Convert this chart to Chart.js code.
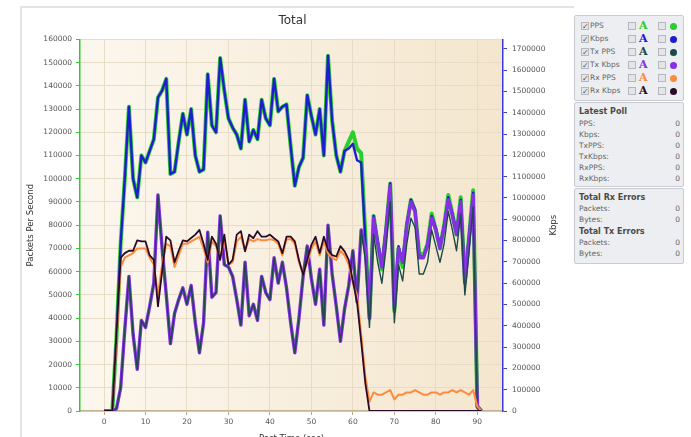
<!DOCTYPE html>
<html>
<head>
<meta charset="utf-8">
<script src="https://cdn.jsdelivr.net/npm/chart.js@4.4.1/dist/chart.umd.min.js"></script>
<style>
  html, body { margin: 0; padding: 0; background: #fff; width: 691px; height: 437px; overflow: hidden; font-family: "DejaVu Sans", Tahoma, sans-serif; }
  #frame { position: absolute; left: 20px; top: 6px; width: 552px; height: 440px; border-left: 2px solid #e1e3e7; border-top: 2px solid #e1e3e7; }
  #wrap { position: absolute; left: 20px; top: 6px; width: 545px; height: 438px; }
  .box { position: absolute; left: 574px; width: 108px; background: #eceef1; border: 1px solid #c8cbd1; border-radius: 2px; color: #666; font-size: 7.5px; }
  .row { position: absolute; left: 0; right: 0; height: 12px; line-height: 12px; }
  .cb { position: absolute; width: 8px; height: 8px; top: 2px; background: #e4e5e8; border: 1px solid #b5b7bc; box-sizing: border-box; font-size: 8px; line-height: 7px; color: #555; text-align: center; }
  .lbl { position: absolute; left: 15px; }
  .aa { position: absolute; left: 64px; font-family: "DejaVu Serif", "Liberation Serif", serif; font-weight: bold; font-size: 11px; line-height: 12px; }
  .dot { position: absolute; left: 95px; top: 3px; width: 7px; height: 7px; border-radius: 50%; }
  .hd { position: absolute; left: 4px; font-weight: bold; color: #4a4a4a; font-size: 8px; }
  .k { position: absolute; left: 4px; }
  .v { position: absolute; right: 3px; }
</style>
</head>
<body>
<div id="frame"></div>
<div id="wrap"><canvas id="chart"></canvas></div>

<div class="box" style="top:15px;height:84px;" id="legendBox"></div>
<div class="box" style="top:102px;height:83px;" id="pollBox"></div>
<div class="box" style="top:188px;height:74px;" id="errBox"></div>

<script>
// --- data ---
const times = [0,1,2,3,4,5,6,7,8,9,10,11,12,13,14,15,16,17,18,19,20,21,22,23,24,25,26,27,28,29,30,31,32,33,34,35,36,37,38,39,40,41,42,43,44,45,46,47,48,49,50,51,52,53,54,55,56,57,58,59,60,61,62,63,64,65,66,67,68,69,70,71,72,73,74,75,76,77,78,79,80,81,82,83,84,85,86,87,88,89,90,91];

const pps = [0,0,0,32000,72000,100000,131000,100000,92000,110000,107000,112000,117000,135000,138000,143000,102000,103000,116000,128000,119000,130000,110000,103000,104000,145000,123000,120000,152000,138000,126000,122000,119000,113000,134000,116000,121000,117000,134000,126000,123000,143000,129000,131000,132000,114000,97000,105000,109000,136000,127000,119000,130000,110000,153000,125000,110000,103000,112000,116000,120000,113000,111000,76000,40000,84000,72000,61000,78000,98000,43000,70000,62000,80000,91000,86000,68000,67000,72000,85000,78000,70000,80000,93000,85000,76000,92000,56000,75000,95000,2000,0];

const kbps = [0,0,0,349000,785000,1090000,1428000,1090000,1003000,1199000,1166000,1221000,1275000,1472000,1504000,1559000,1112000,1123000,1264000,1395000,1297000,1417000,1199000,1123000,1134000,1581000,1341000,1308000,1657000,1504000,1373000,1330000,1297000,1232000,1461000,1264000,1319000,1275000,1461000,1373000,1341000,1559000,1406000,1428000,1439000,1243000,1057000,1145000,1188000,1482000,1384000,1297000,1417000,1199000,1668000,1363000,1199000,1123000,1221000,1232000,1254000,1177000,1166000,807000,436000,916000,796000,687000,861000,1068000,480000,774000,698000,883000,992000,948000,730000,719000,785000,916000,861000,774000,872000,1003000,927000,839000,992000,610000,818000,1025000,22000,0];

const txPps = [0,0,0,1000,10000,35000,58000,33000,18000,39000,36000,45000,55000,93000,70000,50000,29000,42000,48000,53000,46000,54000,38000,25000,38000,77000,49000,51000,84000,63000,62000,58000,48000,37000,64000,41000,46000,39000,58000,51000,48000,66000,55000,64000,53000,38000,25000,40000,58000,71000,57000,46000,61000,37000,80000,59000,45000,30000,44000,54000,69000,47000,78000,65000,36000,76000,64000,55000,70000,90000,38000,63000,56000,72000,83000,79000,59000,59000,64000,78000,71000,64000,72000,86000,78000,69000,85000,50000,68000,88000,1000,0];

const txKbps = [0,0,0,11000,109000,382000,632000,360000,196000,425000,392000,491000,600000,1014000,763000,545000,316000,458000,523000,578000,501000,589000,414000,273000,414000,839000,534000,556000,916000,687000,676000,632000,523000,403000,698000,447000,501000,425000,632000,556000,523000,719000,600000,698000,578000,414000,273000,436000,632000,774000,621000,501000,665000,403000,872000,643000,491000,327000,480000,589000,752000,512000,850000,763000,436000,905000,785000,676000,850000,1057000,480000,763000,698000,872000,981000,937000,719000,719000,774000,905000,850000,763000,861000,992000,916000,828000,981000,600000,807000,1014000,22000,0];

const rxPps = [0,0,0,30000,62000,66000,67000,68000,70000,70000,70000,66000,63000,50000,63000,72000,71000,62000,67000,72000,72000,73000,74000,75000,70000,64000,73000,71000,66000,74000,63000,64000,73000,75000,69000,74000,73000,74000,73500,73500,74000,73500,72000,67000,74000,74000,72000,64000,59000,64000,70000,73000,67000,73000,68000,66000,65000,69000,67000,63000,55000,50000,33000,15000,4000,8000,7000,7000,8000,9000,5000,7000,7000,8000,8000,9000,8000,7000,7000,8000,8000,7000,8000,8000,9000,8000,9000,8000,7000,9000,2000,0];

const rxKbps = [0,0,0,360000,719000,741000,752000,752000,801000,796000,796000,730000,709000,491000,654000,818000,801000,698000,752000,801000,796000,812000,828000,850000,785000,709000,818000,785000,709000,828000,687000,709000,828000,844000,749000,828000,811000,844000,818000,818000,828000,811000,796000,741000,818000,818000,796000,709000,639000,709000,780000,818000,741000,818000,756000,732000,725000,774000,749000,709000,610000,512000,327000,131000,0,0,0,0,0,0,0,0,0,0,0,0,0,0,0,0,0,0,0,0,0,0,0,0,0,0,0,0];

// tick labels
const timeTicks = [0,10,20,30,40,50,60,70,80,90];
const ppsTicks = [0,10000,20000,30000,40000,50000,60000,70000,80000,90000,100000,110000,120000,130000,140000,150000,160000];
const kbpsTicks = [0,100000,200000,300000,400000,500000,600000,700000,800000,900000,1000000,1100000,1200000,1300000,1400000,1500000,1600000,1700000];

const seriesNames = ["PPS", "Kbps", "Tx PPS", "Tx Kbps", "Rx PPS", "Rx Kbps"];
const seriesColors = ["#2bcf2b", "#1e1ed0", "#1b4a47", "#8531e3", "#ff8a3d", "#2c0a27"];
const pollNames = ["PPS:", "Kbps:", "TxPPS:", "TxKbps:", "RxPPS:", "RxKbps:"];

const pts = arr => times.map((t, i) => ({ x: t, y: arr[i] }));
const useTicks = list => axis => { axis.ticks = list.map(v => ({ value: v })); };
const plain = v => String(v);
const fontFam = "'DejaVu Sans', Tahoma, sans-serif";
const tickFont = { family: fontFam, size: 7.5 };

// cream plot background
const plotBg = {
    id: 'plotBg',
    beforeDraw(chart) {
        const { ctx, chartArea: a } = chart;
        const g = ctx.createLinearGradient(a.left, 0, a.right, 0);
        g.addColorStop(0, '#fcf7ee');
        g.addColorStop(1, '#f4e6ce');
        ctx.save();
        ctx.fillStyle = g;
        ctx.fillRect(a.left, a.top, a.right - a.left, a.bottom - a.top);
        ctx.restore();
    }
};

// right title reads bottom-to-top like the left one
const rightTitle = {
    id: 'rightTitle',
    afterDraw(chart) {
        const { ctx, chartArea: a } = chart;
        ctx.save();
        ctx.translate(chart.width - 11, (a.top + a.bottom) / 2);
        ctx.rotate(-Math.PI / 2);
        ctx.font = "8.5px " + fontFam;
        ctx.fillStyle = '#333';
        ctx.textAlign = 'center';
        ctx.textBaseline = 'middle';
        ctx.fillText('Kbps', 0, 0);
        ctx.restore();
    }
};

const ds = (i, arr, axis, width) => ({
    label: seriesNames[i],
    data: pts(arr),
    yAxisID: axis,
    borderColor: seriesColors[i],
    borderWidth: width,
    pointRadius: 0,
    tension: 0,
    borderJoinStyle: 'round',
    fill: false
});

// first dataset is drawn on top
new Chart(document.getElementById('chart'), {
    type: 'line',
    data: {
        datasets: [
            ds(5, rxKbps, 'y1', 1.8),
            ds(4, rxPps, 'y', 2),
            ds(2, txPps, 'y', 1.4),
            ds(3, txKbps, 'y1', 3.4),
            ds(1, kbps, 'y1', 2.4),
            ds(0, pps, 'y', 4)
        ]
    },
    options: {
        responsive: true,
        maintainAspectRatio: false,
        animation: false,
        layout: { padding: 0 },
        plugins: {
            legend: { display: false },
            tooltip: { enabled: false },
            title: {
                display: true,
                text: 'Total',
                color: '#333',
                font: { family: fontFam, size: 12, weight: 'normal' },
                padding: { top: 8, bottom: 11 }
            }
        },
        scales: {
            x: {
                type: 'linear',
                min: -5.8,
                max: 96.2,
                ticks: { font: tickFont, color: '#555', padding: 3, maxRotation: 0, autoSkip: false, callback: plain },
                afterBuildTicks: useTicks(timeTicks),
                grid: { color: '#e8dcc6', tickColor: '#b8a88a', tickLength: 4 },
                border: { color: '#c4b393', width: 1.5 },
                title: { display: true, text: 'Post Time (sec)', color: '#333', font: { family: fontFam, size: 8.5 }, padding: { top: 3, bottom: 0 } },
                afterFit: s => { s.height = 33; }
            },
            y: {
                position: 'left',
                min: 0,
                max: 160000,
                ticks: { font: tickFont, color: '#555', padding: 4, autoSkip: false, callback: plain },
                afterBuildTicks: useTicks(ppsTicks),
                grid: { color: '#e8dcc6', tickColor: '#2bcf2b', tickLength: 4 },
                border: { color: '#2bcf2b', width: 1.5 },
                title: { display: true, text: 'Packets Per Second', color: '#333', font: { family: fontFam, size: 8.5 }, padding: { top: 6, bottom: 0 } },
                afterFit: s => { s.width = 60; }
            },
            y1: {
                position: 'right',
                min: 0,
                max: 1744000,
                ticks: { font: tickFont, color: '#555', padding: 5, autoSkip: false, callback: plain },
                afterBuildTicks: useTicks(kbpsTicks),
                grid: { drawOnChartArea: false, tickColor: '#3a3adc', tickLength: 4 },
                border: { color: '#3a3adc', width: 1.5 },
                afterFit: s => { s.width = 62; }
            }
        }
    },
    plugins: [plotBg, rightTitle]
});

// --- side panel ---
const legendBox = document.getElementById('legendBox');
seriesNames.forEach((name, i) => {
    const r = document.createElement('div');
    r.className = 'row';
    r.style.top = (4 + i * 13) + 'px';
    r.innerHTML = `<span class="cb" style="left:6px">✓</span><span class="lbl">${name}</span>` +
        `<span class="cb" style="left:53px"></span><span class="aa" style="color:${seriesColors[i]}">A</span>` +
        `<span class="cb" style="left:83px"></span><span class="dot" style="background:${seriesColors[i]}"></span>`;
    legendBox.appendChild(r);
});

const pollBox = document.getElementById('pollBox');
pollBox.innerHTML = '<div class="row" style="top:3px"><span class="hd">Latest Poll</span></div>' +
    pollNames.map((n, i) => `<div class="row" style="top:${15 + i * 11}px"><span class="k">${n}</span><span class="v">0</span></div>`).join('');

const errBox = document.getElementById('errBox');
const errRows = [["Total Rx Errors", true], ["Packets:", false], ["Bytes:", false], ["Total Tx Errors", true], ["Packets:", false], ["Bytes:", false]];
errBox.innerHTML = errRows.map((r, i) => r[1]
    ? `<div class="row" style="top:${3 + i * 11.2}px"><span class="hd">${r[0]}</span></div>`
    : `<div class="row" style="top:${3 + i * 11.2}px"><span class="k">${r[0]}</span><span class="v">0</span></div>`).join('');
</script>
</body>
</html>
